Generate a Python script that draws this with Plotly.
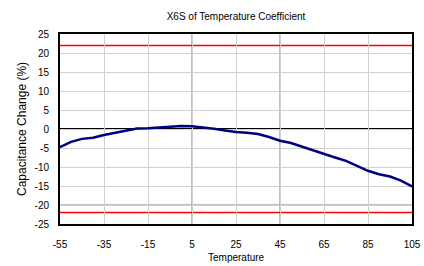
import plotly.graph_objects as go

temps = [-55, -50, -45, -40, -35, -30, -25, -20, -15, -10, -5, 0, 5, 10, 15, 20,
         25, 30, 35, 40, 45, 50, 55, 60, 65, 70, 75, 80, 85, 90, 95, 100, 105]
cap_change = [-4.8, -3.4, -2.6, -2.3, -1.6, -1.0, -0.4, 0.1, 0.2, 0.4, 0.5, 0.8, 0.7, 0.4,
              0.05, -0.4, -0.8, -1.0, -1.3, -2.1, -3.1, -3.7, -4.7, -5.5, -6.6, -7.5,
              -8.4, -9.7, -11.0, -11.9, -12.5, -13.6, -15.1]
limit_upper = 22
limit_lower = -22
x_ticks = [-55, -35, -15, 5, 25, 45, 65, 85, 105]
y_ticks = [-25, -20, -15, -10, -5, 0, 5, 10, 15, 20, 25]
dark_x = [5, 45]
dark_y = [-20]

font = "Liberation Sans, Arial, sans-serif"

fig = go.Figure()

shapes = []
for xv in dark_x:
    shapes.append(dict(type="line", xref="x", yref="paper", x0=xv, x1=xv, y0=0, y1=1,
                       line=dict(color="#808080", width=1), layer="between"))
for yv in dark_y:
    shapes.append(dict(type="line", xref="paper", yref="y", x0=0, x1=1, y0=yv, y1=yv,
                       line=dict(color="#808080", width=1), layer="between"))
shapes.append(dict(type="line", xref="paper", yref="y", x0=0, x1=1, y0=0, y1=0,
                   line=dict(color="black", width=2), layer="between"))
for yv in [limit_upper, limit_lower]:
    shapes.append(dict(type="line", xref="paper", yref="y", x0=0, x1=1, y0=yv, y1=yv,
                       line=dict(color="#ff0000", width=1.5), layer="between"))

fig.add_trace(go.Scatter(x=temps, y=cap_change, mode="lines",
                         line=dict(color="#000080", width=2.5), showlegend=False,
                         hoverinfo="skip"))

fig.update_layout(
    width=424, height=266,
    margin=dict(l=60, r=12, t=34, b=42, autoexpand=False),
    paper_bgcolor="white", plot_bgcolor="white",
    font=dict(family=font, size=10, color="black"),
    title=dict(text="X6S of Temperature Coefficient", x=0.5, xref="paper",
               xanchor="center", y=1 - 16 / 266, yanchor="middle", font=dict(size=10)),
    shapes=shapes,
    annotations=[
        dict(text="Temperature", xref="paper", yref="paper", x=0.5, y=-33 / 190,
             xanchor="center", yanchor="middle", showarrow=False, font=dict(size=10)),
        dict(text="Capacitance Change (%)", xref="paper", yref="paper", x=-38 / 352,
             y=0.5, xanchor="center", yanchor="middle", textangle=-90,
             showarrow=False, font=dict(size=12)),
    ],
    xaxis=dict(range=[-55, 105], tickvals=x_ticks, ticktext=[str(v) for v in x_ticks],
               showgrid=True, gridcolor="#d0d0d0", gridwidth=1, zeroline=False,
               showline=True, linecolor="black", linewidth=2, mirror=True, ticks="",
               ticklabelstandoff=10, ticklabeloverflow="allow", tickfont=dict(size=10)),
    yaxis=dict(range=[-25, 25], tickvals=y_ticks, ticktext=[str(v) for v in y_ticks],
               showgrid=True, gridcolor="#d0d0d0", gridwidth=1, zeroline=False,
               showline=True, linecolor="black", linewidth=2, mirror=True, ticks="",
               ticklabelstandoff=7, tickfont=dict(size=10)),
)

fig.write_html("out.html", config={"displayModeBar": False},
               post_script="document.body.style.margin='0';")
